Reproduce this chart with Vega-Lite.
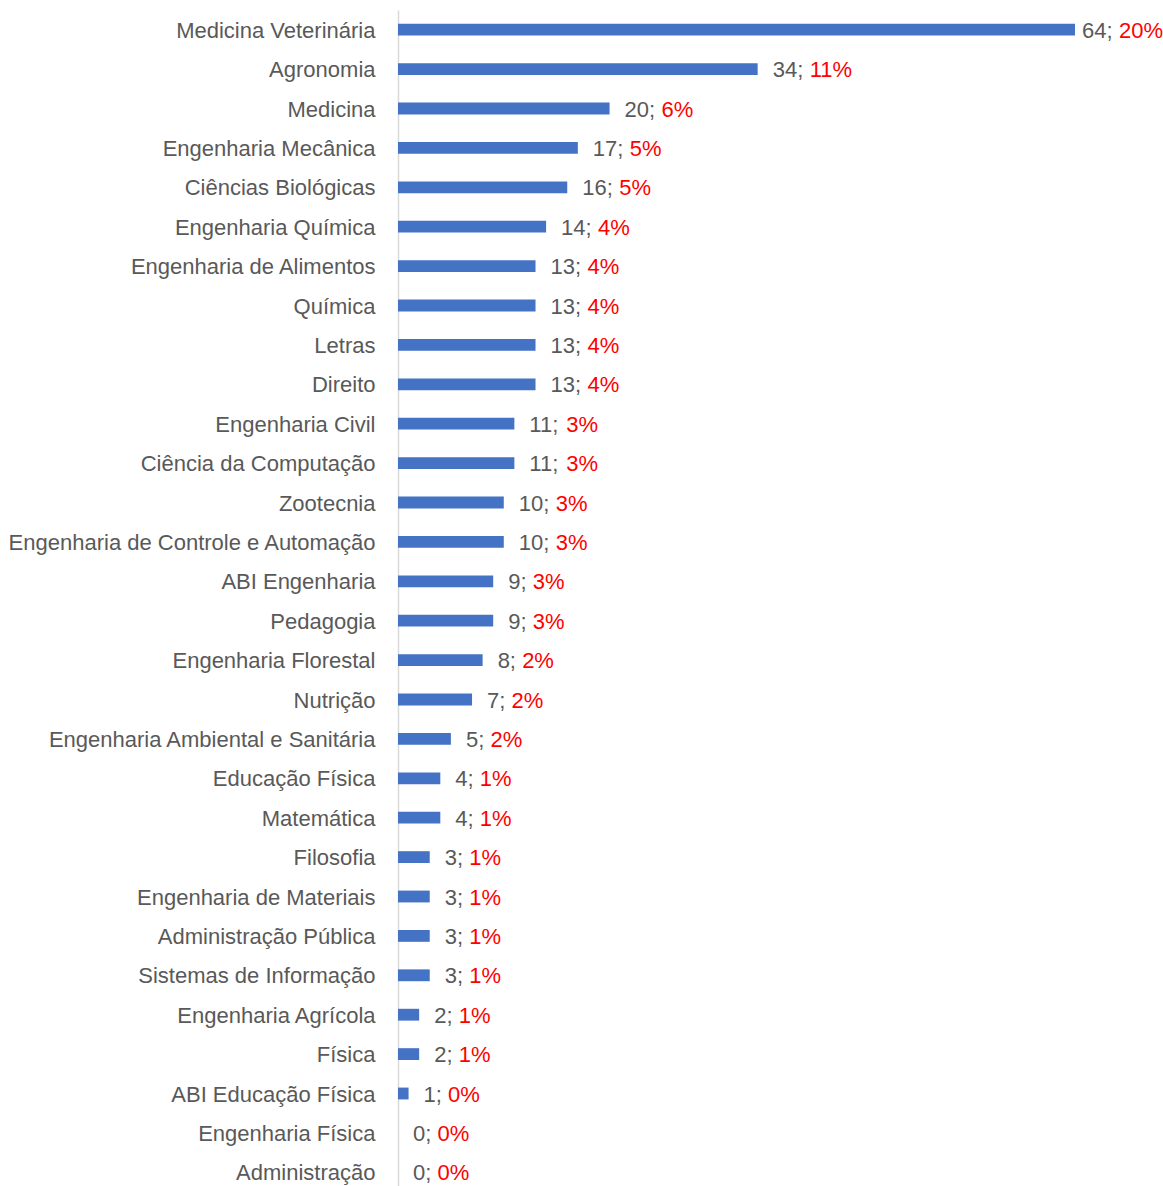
{
  "$schema": "https://vega.github.io/schema/vega-lite/v6.json",
  "autosize": {"type": "none"},
  "padding": {"left": 398, "top": 10, "right": 88, "bottom": 0},
  "width": 677,
  "height": 1182,
  "background": "white",
  "config": {"view": {"stroke": null}, "font": "Liberation Sans"},
  "data": {"values": [
    {"curso": "Medicina Veterinária", "n": 64, "pct": "20%"},
    {"curso": "Agronomia", "n": 34, "pct": "11%"},
    {"curso": "Medicina", "n": 20, "pct": "6%"},
    {"curso": "Engenharia Mecânica", "n": 17, "pct": "5%"},
    {"curso": "Ciências Biológicas", "n": 16, "pct": "5%"},
    {"curso": "Engenharia Química", "n": 14, "pct": "4%"},
    {"curso": "Engenharia de Alimentos", "n": 13, "pct": "4%"},
    {"curso": "Química", "n": 13, "pct": "4%"},
    {"curso": "Letras", "n": 13, "pct": "4%"},
    {"curso": "Direito", "n": 13, "pct": "4%"},
    {"curso": "Engenharia Civil", "n": 11, "pct": "3%"},
    {"curso": "Ciência da Computação", "n": 11, "pct": "3%"},
    {"curso": "Zootecnia", "n": 10, "pct": "3%"},
    {"curso": "Engenharia de Controle e Automação", "n": 10, "pct": "3%"},
    {"curso": "ABI Engenharia", "n": 9, "pct": "3%"},
    {"curso": "Pedagogia", "n": 9, "pct": "3%"},
    {"curso": "Engenharia Florestal", "n": 8, "pct": "2%"},
    {"curso": "Nutrição", "n": 7, "pct": "2%"},
    {"curso": "Engenharia Ambiental e Sanitária", "n": 5, "pct": "2%"},
    {"curso": "Educação Física", "n": 4, "pct": "1%"},
    {"curso": "Matemática", "n": 4, "pct": "1%"},
    {"curso": "Filosofia", "n": 3, "pct": "1%"},
    {"curso": "Engenharia de Materiais", "n": 3, "pct": "1%"},
    {"curso": "Administração Pública", "n": 3, "pct": "1%"},
    {"curso": "Sistemas de Informação", "n": 3, "pct": "1%"},
    {"curso": "Engenharia Agrícola", "n": 2, "pct": "1%"},
    {"curso": "Física", "n": 2, "pct": "1%"},
    {"curso": "ABI Educação Física", "n": 1, "pct": "0%"},
    {"curso": "Engenharia Física", "n": 0, "pct": "0%"},
    {"curso": "Administração", "n": 0, "pct": "0%"}
  ]},
  "transform": [{"calculate": "datum.n + ';'", "as": "numLabel"}],
  "encoding": {
    "y": {
      "field": "curso", "type": "nominal", "sort": null,
      "scale": {"paddingInner": 0.7, "paddingOuter": 0.35},
      "axis": {
        "title": null, "ticks": false, "tickSize": 0, "labelPadding": 23, "labelOffset": 1,
        "domainColor": "#D9D9D9", "domainWidth": 1.5,
        "labelFont": "Liberation Sans", "labelFontSize": 22, "labelColor": "#595959",
        "labelLimit": 600
      }
    },
    "x": {
      "field": "n", "type": "quantitative",
      "scale": {"domain": [0, 64], "nice": false},
      "axis": null
    }
  },
  "layer": [
    {"mark": {"type": "bar", "color": "#4472C4"}},
    {
      "transform": [{"filter": "datum.n < 60"}],
      "mark": {"type": "text", "align": "left", "baseline": "middle", "dx": 15, "dy": 1, "fontSize": 22, "color": "#595959"},
      "encoding": {"text": {"field": "numLabel"}}
    },
    {
      "transform": [{"filter": "datum.n >= 60"}],
      "mark": {"type": "text", "align": "left", "baseline": "middle", "dx": 7, "dy": 1, "fontSize": 22, "color": "#595959"},
      "encoding": {"text": {"field": "numLabel"}}
    },
    {
      "transform": [{"filter": "datum.n < 10"}],
      "mark": {"type": "text", "align": "left", "baseline": "middle", "dx": 39.5, "dy": 1, "fontSize": 22, "color": "#FF0000"},
      "encoding": {"text": {"field": "pct"}}
    },
    {
      "transform": [{"filter": "datum.n >= 10 && datum.n < 60"}],
      "mark": {"type": "text", "align": "left", "baseline": "middle", "dx": 52, "dy": 1, "fontSize": 22, "color": "#FF0000"},
      "encoding": {"text": {"field": "pct"}}
    },
    {
      "transform": [{"filter": "datum.n >= 60"}],
      "mark": {"type": "text", "align": "left", "baseline": "middle", "dx": 44, "dy": 1, "fontSize": 22, "color": "#FF0000"},
      "encoding": {"text": {"field": "pct"}}
    }
  ]
}
